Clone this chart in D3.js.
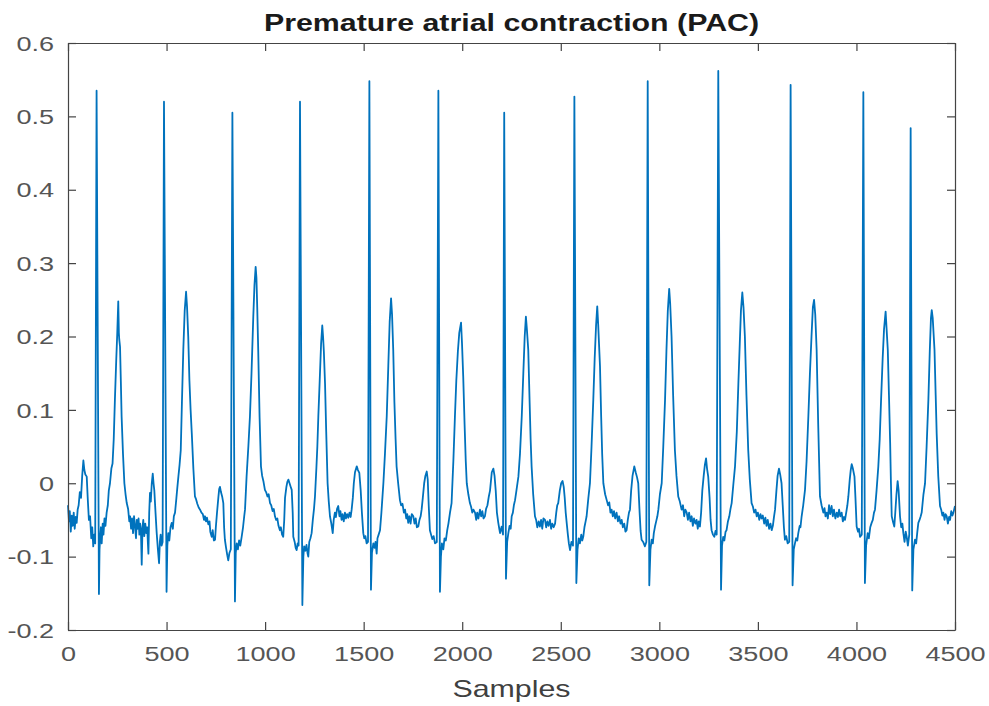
<!DOCTYPE html>
<meta charset="utf-8">
<script src="https://d3js.org/d3.v7.min.js"></script>
<style>
  body { margin: 0; background: #fff; }
</style>
<body>
<script>

// Axis ticks and labels
var xTicks = [0, 500, 1000, 1500, 2000, 2500, 3000, 3500, 4000, 4500];
var yTicks = [-0.2, -0.1, 0, 0.1, 0.2, 0.3, 0.4, 0.5, 0.6];
var titleText = "Premature atrial contraction (PAC)";
var xLabel = "Samples";

// ECG trace: [sample, amplitude]
var ecgTrace = [
  [0,-0.030],[5,-0.052],[9,-0.038],[14,-0.066],[19,-0.044],[24,-0.058],[29,-0.040],[34,-0.062],[39,-0.046],[44,-0.054],[49,-0.036],[54,-0.030],[60,-0.012],[66,-0.020],[72,0.010],[78,0.031],[83,0.018],[88,0.012],[95,0.009],[100,-0.020],[106,-0.050],[112,-0.045],[118,-0.075],[123,-0.060],[128,-0.086],[133,-0.070],[138,-0.082],[145,0.535],[157,-0.151],
  [160,-0.090],[163,-0.075],[167,-0.060],[171,-0.082],[176,-0.055],[180,-0.070],[185,-0.048],[190,-0.058],[196,-0.040],[202,-0.030],[207,-0.010],[213,0.000],[220,0.020],[226,0.027],[232,0.060],[238,0.114],[245,0.170],[250,0.205],[255,0.248],[258,0.205],[260,0.196],[264,0.186],[268,0.140],[272,0.091],[279,0.040],[286,0.000],[292,-0.015],[298,-0.027],[305,-0.035],[311,-0.052],[315,-0.045],[320,-0.062],[325,-0.048],[330,-0.068],[335,-0.045],[340,-0.058],[345,-0.075],[349,-0.050],[353,-0.062],[358,-0.048],[362,-0.070],[366,-0.055],[370,-0.065],[374,-0.111],[378,-0.060],[382,-0.050],[387,-0.072],[392,-0.055],[397,-0.068],[402,-0.060],[405,-0.080],[408,-0.096],[412,-0.040],[416,-0.013],[420,-0.025],[425,0.000],[430,0.013],[434,0.000],[438,-0.010],[444,-0.040],[450,-0.068],[456,-0.090],[462,-0.109],[466,-0.080],[470,-0.070],[475,-0.085],[480,-0.080],[487,0.520],[500,-0.148],
  [504,-0.085],[509,-0.068],[514,-0.078],[520,-0.060],[526,-0.054],[532,-0.062],[537,-0.045],[543,-0.040],[550,-0.020],[555,-0.005],[560,0.009],[566,0.025],[572,0.045],[578,0.110],[585,0.182],[592,0.235],[599,0.261],[604,0.240],[610,0.200],[616,0.140],[622,0.100],[628,0.068],[636,0.020],[644,-0.018],[650,-0.022],[656,-0.028],[663,-0.033],[670,-0.036],[677,-0.040],[684,-0.042],[690,-0.050],[695,-0.045],[700,-0.052],[705,-0.047],[712,-0.056],[718,-0.052],[722,-0.066],[729,-0.073],[734,-0.064],[740,-0.078],[746,-0.077],[750,-0.060],[756,-0.040],[763,-0.019],[767,-0.008],[771,-0.005],[776,-0.012],[782,-0.018],[788,-0.027],[792,-0.060],[796,-0.077],[802,-0.088],[808,-0.098],[813,-0.105],[819,-0.095],[826,-0.090],[834,0.505],[847,-0.161],
  [851,-0.095],[856,-0.082],[862,-0.090],[868,-0.078],[874,-0.085],[881,-0.073],[888,-0.060],[894,-0.045],[898,-0.036],[906,0.009],[915,0.050],[923,0.091],[931,0.150],[940,0.227],[946,0.270],[952,0.295],[956,0.280],[960,0.240],[965,0.182],[972,0.090],[979,0.023],[985,0.010],[992,0.002],[999,-0.009],[1005,-0.012],[1012,-0.018],[1018,-0.015],[1025,-0.027],[1031,-0.030],[1038,-0.038],[1044,-0.035],[1050,-0.045],[1056,-0.050],[1062,-0.048],[1068,-0.058],[1075,-0.064],[1080,-0.060],[1086,-0.070],[1092,-0.073],[1097,-0.050],[1101,-0.020],[1108,-0.005],[1113,0.002],[1118,0.005],[1124,0.000],[1130,-0.005],[1135,-0.009],[1140,-0.040],[1143,-0.073],[1150,-0.080],[1155,-0.088],[1160,-0.091],[1165,-0.082],[1170,-0.085],[1177,0.520],[1189,-0.166],
  [1194,-0.100],[1198,-0.086],[1204,-0.092],[1210,-0.084],[1215,-0.095],[1219,-0.100],[1224,-0.080],[1230,-0.075],[1236,-0.068],[1242,-0.050],[1248,-0.035],[1253,-0.018],[1260,0.020],[1265,0.050],[1270,0.091],[1277,0.140],[1284,0.190],[1290,0.215],[1294,0.200],[1298,0.180],[1304,0.136],[1310,0.070],[1317,0.000],[1323,-0.025],[1329,-0.045],[1336,-0.055],[1343,-0.068],[1348,-0.050],[1354,-0.040],[1359,-0.046],[1365,-0.035],[1371,-0.031],[1377,-0.045],[1382,-0.038],[1388,-0.050],[1393,-0.042],[1399,-0.052],[1405,-0.040],[1410,-0.048],[1416,-0.042],[1422,-0.047],[1428,-0.040],[1434,-0.046],[1439,-0.036],[1445,-0.020],[1450,0.000],[1456,0.015],[1465,0.023],[1471,0.018],[1478,0.014],[1485,-0.010],[1491,-0.040],[1498,-0.068],[1503,-0.075],[1509,-0.072],[1515,-0.082],[1522,-0.080],[1529,0.548],[1537,-0.145],
  [1542,-0.095],[1549,-0.082],[1555,-0.088],[1560,-0.080],[1566,-0.096],[1570,-0.075],[1576,-0.070],[1583,-0.064],[1590,-0.040],[1595,-0.020],[1600,0.000],[1608,0.040],[1617,0.091],[1625,0.160],[1632,0.220],[1639,0.252],[1644,0.230],[1650,0.182],[1656,0.110],[1662,0.060],[1667,0.023],[1675,0.000],[1684,-0.023],[1690,-0.030],[1697,-0.028],[1704,-0.040],[1710,-0.036],[1716,-0.048],[1721,-0.042],[1726,-0.054],[1732,-0.045],[1738,-0.055],[1744,-0.042],[1752,-0.045],[1758,-0.055],[1764,-0.048],[1770,-0.060],[1777,-0.059],[1783,-0.050],[1789,-0.045],[1794,-0.036],[1800,-0.020],[1807,0.000],[1813,0.010],[1820,0.016],[1825,0.005],[1830,-0.030],[1836,-0.064],[1842,-0.070],[1848,-0.076],[1855,-0.072],[1862,-0.082],[1871,-0.080],[1879,0.535],[1887,-0.148],
  [1892,-0.100],[1897,-0.082],[1904,-0.090],[1910,-0.075],[1917,-0.078],[1924,-0.064],[1930,-0.055],[1938,-0.040],[1946,-0.027],[1955,0.030],[1963,0.091],[1970,0.140],[1978,0.180],[1985,0.205],[1994,0.219],[1999,0.190],[2005,0.146],[2012,0.080],[2018,0.030],[2023,0.000],[2031,-0.015],[2039,-0.027],[2045,-0.032],[2051,-0.040],[2057,-0.036],[2065,-0.040],[2071,-0.050],[2076,-0.040],[2082,-0.048],[2090,-0.036],[2096,-0.045],[2102,-0.038],[2108,-0.048],[2115,-0.045],[2121,-0.035],[2128,-0.030],[2135,-0.018],[2141,-0.010],[2150,0.015],[2158,0.020],[2164,0.010],[2170,-0.010],[2176,-0.040],[2183,-0.054],[2188,-0.062],[2192,-0.068],[2200,-0.059],[2207,-0.070],[2213,0.505],[2222,-0.130],
  [2228,-0.080],[2234,-0.068],[2240,-0.058],[2246,-0.062],[2251,-0.045],[2257,-0.040],[2262,-0.030],[2268,-0.023],[2275,-0.010],[2285,0.009],[2293,0.040],[2302,0.091],[2310,0.150],[2317,0.200],[2323,0.227],[2328,0.210],[2335,0.182],[2342,0.110],[2347,0.060],[2352,0.023],[2360,-0.015],[2369,-0.045],[2375,-0.050],[2381,-0.060],[2388,-0.052],[2394,-0.059],[2400,-0.050],[2406,-0.062],[2412,-0.048],[2420,-0.050],[2426,-0.060],[2432,-0.052],[2438,-0.058],[2445,-0.050],[2451,-0.062],[2457,-0.055],[2464,-0.060],[2471,-0.055],[2477,-0.040],[2482,-0.030],[2487,-0.027],[2495,-0.010],[2502,0.000],[2509,0.003],[2515,-0.005],[2520,-0.020],[2525,-0.040],[2530,-0.054],[2536,-0.070],[2541,-0.082],[2547,-0.091],[2554,-0.080],[2562,-0.085],[2569,0.527],[2579,-0.136],
  [2585,-0.090],[2591,-0.075],[2597,-0.082],[2604,-0.070],[2609,-0.078],[2614,-0.073],[2620,-0.060],[2626,-0.052],[2631,-0.045],[2640,-0.020],[2648,0.000],[2656,0.050],[2665,0.114],[2672,0.170],[2679,0.215],[2685,0.241],[2690,0.215],[2694,0.190],[2699,0.159],[2705,0.090],[2710,0.040],[2716,0.000],[2725,-0.015],[2733,-0.023],[2740,-0.030],[2746,-0.026],[2752,-0.040],[2758,-0.036],[2764,-0.045],[2770,-0.038],[2776,-0.048],[2783,-0.040],[2790,-0.052],[2796,-0.045],[2803,-0.055],[2809,-0.050],[2815,-0.060],[2822,-0.055],[2828,-0.066],[2834,-0.064],[2840,-0.050],[2846,-0.040],[2851,-0.036],[2857,-0.010],[2864,0.010],[2873,0.023],[2880,0.015],[2887,0.008],[2893,0.000],[2900,-0.040],[2905,-0.065],[2910,-0.077],[2918,-0.080],[2927,-0.086],[2934,-0.080],[2941,0.548],[2949,-0.139],
  [2955,-0.090],[2961,-0.077],[2967,-0.082],[2972,-0.068],[2978,-0.059],[2984,-0.052],[2990,-0.045],[2995,-0.036],[3003,-0.015],[3012,0.000],[3020,0.050],[3029,0.114],[3036,0.180],[3043,0.235],[3050,0.265],[3055,0.245],[3062,0.200],[3070,0.120],[3079,0.045],[3087,0.010],[3096,-0.018],[3104,-0.025],[3113,-0.036],[3120,-0.030],[3126,-0.045],[3132,-0.036],[3139,-0.040],[3145,-0.050],[3151,-0.040],[3158,-0.052],[3164,-0.045],[3170,-0.058],[3176,-0.048],[3183,-0.055],[3189,-0.050],[3195,-0.062],[3200,-0.052],[3206,-0.059],[3212,-0.040],[3218,-0.010],[3225,0.010],[3231,0.025],[3237,0.034],[3242,0.020],[3248,0.009],[3255,-0.020],[3260,-0.050],[3265,-0.064],[3272,-0.070],[3279,-0.073],[3285,-0.065],[3291,-0.070],[3299,0.562],[3313,-0.145],
  [3318,-0.085],[3324,-0.073],[3330,-0.078],[3336,-0.066],[3341,-0.064],[3348,-0.052],[3355,-0.045],[3361,-0.035],[3367,-0.027],[3376,0.000],[3384,0.023],[3393,0.070],[3401,0.136],[3408,0.190],[3414,0.235],[3421,0.260],[3427,0.240],[3434,0.200],[3442,0.120],[3451,0.045],[3459,0.005],[3468,-0.027],[3475,-0.032],[3481,-0.040],[3488,-0.036],[3494,-0.045],[3500,-0.040],[3507,-0.050],[3513,-0.042],[3519,-0.048],[3525,-0.044],[3532,-0.055],[3538,-0.047],[3544,-0.058],[3550,-0.050],[3557,-0.062],[3564,-0.055],[3570,-0.064],[3576,-0.058],[3582,-0.045],[3587,-0.036],[3594,-0.010],[3600,0.010],[3607,0.020],[3613,0.012],[3620,0.000],[3626,-0.030],[3632,-0.060],[3637,-0.077],[3644,-0.072],[3651,-0.082],[3659,-0.080],[3666,0.543],[3676,-0.139],
  [3682,-0.090],[3688,-0.082],[3694,-0.075],[3700,-0.078],[3705,-0.068],[3712,-0.058],[3716,-0.060],[3722,-0.045],[3730,-0.030],[3739,-0.009],[3747,0.030],[3756,0.091],[3764,0.150],[3772,0.200],[3779,0.240],[3785,0.250],[3791,0.230],[3798,0.182],[3806,0.080],[3815,-0.018],[3823,-0.030],[3832,-0.040],[3838,-0.034],[3843,-0.045],[3849,-0.040],[3855,-0.048],[3861,-0.030],[3867,-0.042],[3874,-0.031],[3880,-0.045],[3886,-0.036],[3893,-0.048],[3900,-0.040],[3906,-0.046],[3912,-0.036],[3918,-0.045],[3925,-0.040],[3931,-0.052],[3937,-0.046],[3942,-0.050],[3948,-0.040],[3954,-0.030],[3959,-0.018],[3966,0.005],[3971,0.018],[3976,0.026],[3982,0.020],[3990,0.009],[3995,-0.020],[4001,-0.059],[4008,-0.066],[4013,-0.062],[4018,-0.073],[4027,-0.070],[4035,0.533],[4043,-0.136],
  [4049,-0.085],[4057,-0.068],[4063,-0.075],[4070,-0.060],[4077,-0.054],[4083,-0.050],[4089,-0.040],[4094,-0.036],[4102,-0.010],[4111,0.023],[4118,0.060],[4125,0.114],[4133,0.170],[4140,0.210],[4148,0.234],[4153,0.210],[4159,0.182],[4165,0.120],[4171,0.055],[4175,0.000],[4179,-0.045],[4185,-0.052],[4192,-0.059],[4197,-0.040],[4203,-0.015],[4209,0.003],[4214,-0.010],[4221,-0.045],[4227,-0.060],[4233,-0.055],[4238,-0.068],[4244,-0.080],[4250,-0.066],[4255,-0.073],[4261,-0.085],[4268,-0.070],[4275,0.484],[4283,-0.146],
  [4289,-0.090],[4297,-0.077],[4303,-0.082],[4309,-0.066],[4314,-0.054],[4320,-0.050],[4326,-0.045],[4331,-0.040],[4340,-0.015],[4348,0.000],[4356,0.050],[4365,0.114],[4372,0.180],[4378,0.225],[4382,0.236],[4387,0.225],[4396,0.182],[4402,0.120],[4407,0.068],[4415,0.010],[4424,-0.031],[4430,-0.036],[4436,-0.044],[4441,-0.040],[4447,-0.050],[4452,-0.042],[4458,-0.045],[4464,-0.055],[4470,-0.046],[4475,-0.050],[4481,-0.038],[4487,-0.044],[4492,-0.040],[4500,-0.031]
];

// Set the dimensions of the canvas.
var margin = {top: 43, right: 34, bottom: 76, left: 68},
    width = 989 - margin.left - margin.right,
    height = 706 - margin.top - margin.bottom;

var font = "'Liberation Sans', Arial, Helvetica, sans-serif";
var sx = 1.32; // the picture is stretched sideways, so is the text

var svg = d3.select("body").append("svg")
    .attr("width", width + margin.left + margin.right)
    .attr("height", height + margin.top + margin.bottom)
    .style("background", "#fff")
  .append("g")
    .attr("transform", "translate(" + margin.left + "," + margin.top + ")");

var x = d3.scaleLinear().domain([0, 4500]).range([0, width]);
var y = d3.scaleLinear().domain([-0.2, 0.6]).range([height, 0]);

// The signal
var valueline = d3.line()
  .x(function(d) { return x(d[0]); })
  .y(function(d) { return y(d[1]); });

svg.append("path")
  .datum(ecgTrace)
  .attr("d", valueline)
  .attr("fill", "none")
  .attr("stroke", "#0072BD")
  .attr("stroke-width", 1.8)
  .attr("stroke-linejoin", "round");

// Axes (box with inner ticks on all four sides)
var xAxis = svg.append("g")
  .attr("transform", "translate(0," + height + ")")
  .call(d3.axisBottom(x).tickValues(xTicks).tickSize(-8).tickSizeOuter(0)
    .tickFormat(d3.format("d")));
xAxis.selectAll("text")
  .attr("y", 31).attr("dy", 0)
  .attr("transform", "scale(" + sx + ",1)");

var yAxis = svg.append("g")
  .call(d3.axisLeft(y).tickValues(yTicks).tickSize(-8).tickSizeOuter(0)
    .tickFormat(function(d) { return d === 0 ? "0" : String(d); }));
yAxis.selectAll("text")
  .attr("x", 0).attr("dy", "0.35em")
  .attr("text-anchor", "end")
  .attr("transform", "translate(-14,0) scale(" + sx + ",1)");

svg.append("g")
  .call(d3.axisTop(x).tickValues(xTicks).tickSize(-8).tickSizeOuter(0).tickFormat(""));
svg.append("g")
  .attr("transform", "translate(" + width + ",0)")
  .call(d3.axisRight(y).tickValues(yTicks).tickSize(-8).tickSizeOuter(0).tickFormat(""));

svg.selectAll(".domain, .tick line")
  .attr("stroke", "#444")
  .attr("stroke-width", 1.2);
svg.selectAll(".tick text")
  .attr("font-family", font)
  .attr("font-size", 20.5)
  .attr("fill", "#555");

// Title and axis label
svg.append("text")
  .attr("transform", "translate(" + (width / 2) + ",-12) scale(" + sx + ",1)")
  .attr("text-anchor", "middle")
  .attr("font-family", font)
  .attr("font-weight", "bold")
  .attr("font-size", 23)
  .attr("fill", "#1a1a1a")
  .text(titleText);

svg.append("text")
  .attr("transform", "translate(" + (width / 2) + "," + (height + 67) + ") scale(" + sx + ",1)")
  .attr("text-anchor", "middle")
  .attr("font-family", font)
  .attr("font-size", 23)
  .attr("fill", "#404040")
  .text(xLabel);

</script>
</body>
